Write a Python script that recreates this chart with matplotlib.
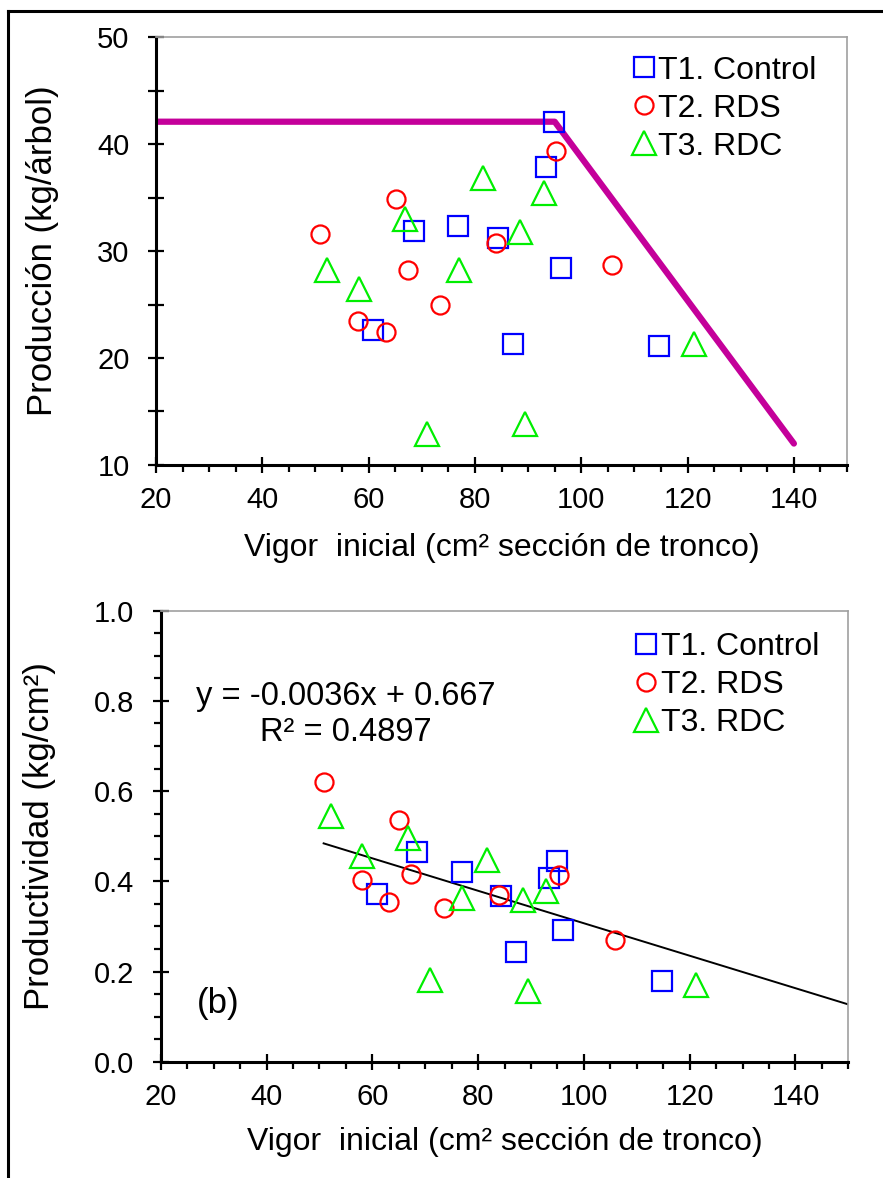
import numpy as np
import matplotlib
matplotlib.use("Agg")
import matplotlib.pyplot as plt
from matplotlib.lines import Line2D
from matplotlib.ticker import MultipleLocator, FormatStrFormatter

plt.rcParams['font.family'] = ['Liberation Sans', 'DejaVu Sans']

# T1. Control
vigor_t1 = [94.9, 93.4, 68.5, 76.9, 84.4, 96.1, 60.9, 87.1, 114.7]
prod_t1 = [42.1, 37.9, 31.9, 32.3, 31.2, 28.4, 22.6, 21.3, 21.1]
prodv_t1 = [0.444, 0.407, 0.465, 0.421, 0.368, 0.293, 0.372, 0.243, 0.180]

# T2. RDS
vigor_t2 = [50.8, 65.1, 67.4, 73.5, 58.0, 63.2, 84.0, 95.3, 105.8]
prod_t2 = [31.6, 34.9, 28.2, 25.0, 23.5, 22.4, 30.8, 39.4, 28.7]
prodv_t2 = [0.621, 0.537, 0.417, 0.341, 0.404, 0.354, 0.369, 0.413, 0.270]

# T3. RDC
vigor_t3 = [52.2, 58.1, 66.8, 77.0, 81.6, 88.4, 92.9, 71.0, 89.5, 121.2]
prod_t3 = [28.2, 26.5, 33.0, 28.2, 36.8, 31.8, 35.4, 12.9, 13.8, 21.3]
prodv_t3 = [0.544, 0.456, 0.496, 0.363, 0.448, 0.359, 0.378, 0.181, 0.156, 0.170]

# boundary line (panel a)
frontier_x = [20, 95, 140]
frontier_y = [42.1, 42.1, 12.0]

# linear trend (panel b)
slope = -0.0036
intercept = 0.667
trend_range = [50.8, 150]

series = [
    ("T1. Control", vigor_t1, prod_t1, prodv_t1, "s", 15, "#0000FF"),
    ("T2. RDS", vigor_t2, prod_t2, prodv_t2, "o", 13, "#FF0000"),
    ("T3. RDC", vigor_t3, prod_t3, prodv_t3, "^", 17, "#00EE00"),
]

fig = plt.figure(figsize=(8.83, 11.78), dpi=100)
ax1 = fig.add_axes([0.1767, 0.6053, 0.7826, 0.3631])
ax2 = fig.add_axes([0.182, 0.0987, 0.7788, 0.3829])

xlabel = "Vigor  inicial (cm² sección de tronco)"


def style_axes(ax):
    for s in ["top", "right"]:
        ax.spines[s].set_color("#a0a0a0")
        ax.spines[s].set_linewidth(1.2)
    for s in ["left", "bottom"]:
        ax.spines[s].set_color("black")
        ax.spines[s].set_linewidth(2.2)
    ax.xaxis.set_major_locator(MultipleLocator(20))
    ax.xaxis.set_minor_locator(MultipleLocator(5))
    ax.tick_params(axis="x", which="major", direction="inout", length=12, width=1.6,
                   labelsize=21, pad=9)
    ax.tick_params(axis="x", which="minor", direction="out", length=5, width=1.6)
    ax.tick_params(axis="y", which="major", direction="inout", length=12, width=1.6,
                   labelsize=21, pad=13)


# panel a
for name, vx, py, pv, mk, ms, col in series:
    ax1.plot(vx, py, linestyle="none", marker=mk, markersize=ms, markerfacecolor="none",
             markeredgecolor=col, markeredgewidth=1.6, label=name, zorder=3)
ax1.plot(frontier_x, frontier_y, color="#C4009A", linewidth=4.5, solid_capstyle="round", zorder=2)
ax1.set_xlim(20, 150)
ax1.set_ylim(10, 50)
style_axes(ax1)
ax1.yaxis.set_major_locator(MultipleLocator(10))
ax1.yaxis.set_minor_locator(MultipleLocator(5))
ax1.tick_params(axis="y", which="minor", direction="inout", length=12, width=1.6)
ax1.set_ylabel("Producción (kg/árbol)", fontsize=25)
ax1.yaxis.set_label_coords(-0.14, 0.5)
ax1.set_xlabel(xlabel, fontsize=23, labelpad=14)
ax1.legend(loc="upper left", bbox_to_anchor=(0.69, 0.957), frameon=False, fontsize=23,
           handlelength=0.7, handletextpad=0.1, labelspacing=0.25, borderpad=0,
           borderaxespad=0)

# panel b
for name, vx, py, pv, mk, ms, col in series:
    ax2.plot(vx, pv, linestyle="none", marker=mk, markersize=ms, markerfacecolor="none",
             markeredgecolor=col, markeredgewidth=1.6, label=name, zorder=3)
tx = np.array(trend_range)
ax2.plot(tx, slope * tx + intercept, color="black", linewidth=1.4, zorder=2)
ax2.set_xlim(20, 150)
ax2.set_ylim(0, 1.0)
style_axes(ax2)
ax2.yaxis.set_major_locator(MultipleLocator(0.2))
ax2.yaxis.set_minor_locator(MultipleLocator(0.05))
ax2.yaxis.set_major_formatter(FormatStrFormatter("%.1f"))
ax2.tick_params(axis="y", which="minor", direction="out", length=5, width=1.6)
ax2.set_ylabel("Productividad (kg/cm²)", fontsize=25)
ax2.yaxis.set_label_coords(-0.152, 0.5)
ax2.set_xlabel(xlabel, fontsize=23, labelpad=12)
ax2.legend(loc="upper left", bbox_to_anchor=(0.69, 0.952), frameon=False, fontsize=23,
           handlelength=0.7, handletextpad=0.1, labelspacing=0.25, borderpad=0,
           borderaxespad=0)
ax2.text(0.2695, 0.8087, "y = -0.0036x + 0.667", transform=ax2.transAxes, fontsize=23.5,
         ha="center", va="center")
ax2.text(0.2695, 0.729, "R² = 0.4897", transform=ax2.transAxes, fontsize=23.5,
         ha="center", va="center")
ax2.text(0.053, 0.128, "(b)", transform=ax2.transAxes, fontsize=25, ha="left", va="center")

# outer frame
fig.add_artist(Line2D([8 / 883, 8 / 883], [0, 1 - 11 / 1178], color="black", linewidth=2.2,
                      transform=fig.transFigure))
fig.add_artist(Line2D([8 / 883, 1], [1 - 11 / 1178, 1 - 11 / 1178], color="black",
                      linewidth=2.2, transform=fig.transFigure))

fig.savefig("out.png", dpi=100)
